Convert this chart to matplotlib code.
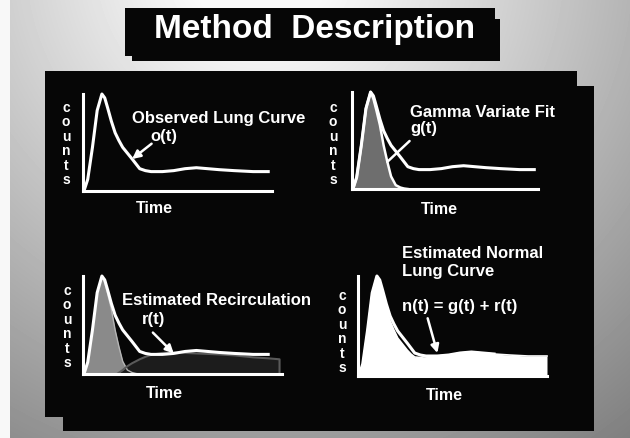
import matplotlib.pyplot as plt
import numpy as np
from matplotlib.patches import Rectangle

W, H = 630, 439
FONT = 'Liberation Sans'

# time axis in arbitrary units (0-100 = length of the drawn time axis)
t = [0.5, 2.5, 5, 7.5, 10, 11.5, 13, 15, 17, 19, 21, 23.5, 26, 28, 30,
     33, 36, 42, 48, 54, 60, 66, 72, 80, 90, 98]
observed = [0, 12, 45, 83, 100, 96, 86, 72, 60, 52, 45, 39, 33, 28, 23,
            21, 20, 20, 21, 23, 24, 23, 22, 21, 20, 20]

# gamma variate fit g(t)
t_gamma = [0.5, 2.5, 5, 7.5, 10, 11.5, 13, 15, 17, 19, 21, 23.5, 26, 28, 30]
gamma = [0, 12, 45, 83, 100, 93, 82, 66, 45, 28, 13, 4, 1.5, 0.5, 0]

# estimated recirculation r(t)
t_recirc = [18, 21, 23.5, 26, 28, 30, 33, 36, 42, 48, 54, 60, 66, 72, 80, 90, 98, 104]
recirc = [0, 4, 8, 11, 13, 15, 17.5, 19.5, 21.5, 22, 21.5, 21, 20.5, 20, 19, 17, 16, 15]

# estimated normal lung curve n(t)
t_normal = [0.5, 2.5, 5, 7.5, 10, 11.5, 13, 15, 17, 19, 21, 23.5, 26, 28, 30,
            33, 36, 42, 48, 54, 60, 66, 72, 80, 90, 100]
normal = [0, 12, 45, 83, 100, 95, 84, 68, 55, 46, 38, 32, 26, 22, 19,
          18.5, 19.5, 20, 21, 23, 24, 23, 22, 21, 20, 20]

fig = plt.figure(figsize=(6.3, 4.39), dpi=100)

# background: photographed slide, light top-left fading to grey
bg = fig.add_axes([0, 0, 1, 1])
bg.axis('off')
yy, xx = np.mgrid[0:H, 0:W]
d = np.hypot(xx - 260, yy + 40)
shade = np.clip(250 - 0.23 * np.clip(d - 70, 0, None), 0, 255) / 255
shade[:, :10] = 0.97
bg.imshow(shade, cmap='gray', vmin=0, vmax=1, extent=[0, W, H, 0], aspect='auto')
bg.set_xlim(0, W)
bg.set_ylim(H, 0)

# black boxes (slightly offset copies give the stepped edges)
for x0, y0, w, h in [(45, 72, 532, 346), (63, 87, 531, 345),
                     (125, 9, 370, 48), (132, 20, 368, 42)]:
    bg.add_patch(Rectangle((x0, y0), w, h, facecolor='#060606', edgecolor='none'))

bg.text(315, 38, 'Method  Description', ha='center', va='baseline', color='white',
        fontsize=24, fontweight='bold', family=FONT)


def panel(x0, x1, y0, y1, xmax=100):
    ax = fig.add_axes([x0 / W, 1 - y1 / H, (x1 - x0) / W, (y1 - y0) / H])
    ax.patch.set_visible(False)
    ax.set_xlim(0, xmax)
    ax.set_ylim(0, 100)
    for s in ['top', 'right']:
        ax.spines[s].set_visible(False)
    for s in ['left', 'bottom']:
        ax.spines[s].set_color('white')
        ax.spines[s].set_linewidth(2.2)
        ax.spines[s].set_capstyle('projecting')
    ax.set_xticks([])
    ax.set_yticks([])
    return ax


def counts(px, py_top):
    for i, ch in enumerate('counts'):
        bg.text(px, py_top + i * 14.4, ch, ha='center', va='center', color='white',
                fontsize=10, fontweight='bold', family=FONT)


def label(txt, px, py, size=12, ha='left'):
    bg.text(px, py, txt, ha=ha, va='baseline', color='white',
            fontsize=size, fontweight='bold', family=FONT)


def arrow(ax, xy, off, head=True):
    ax.annotate('', xy=xy, xytext=off, textcoords='offset points',
                arrowprops=dict(arrowstyle='-|>' if head else '-', color='white',
                                lw=1.8, mutation_scale=12, shrinkA=0, shrinkB=0),
                annotation_clip=False)


lw = 2.2

# top-left: observed lung curve
ax1 = panel(83, 272, 95, 192)
ax1.plot(t, observed, color='white', lw=lw, solid_joinstyle='round', clip_on=False)
arrow(ax1, (t[12], observed[12]), (14, 11))
counts(66, 108)
label('Observed Lung Curve', 132, 123)
label('o(t)', 150, 141)
label('Time', 154, 213, size=11.5, ha='center')

# top-right: gamma variate fit
ax2 = panel(352, 538, 93, 190)
ax2.fill_between(t_gamma, gamma, color='#6e6e6e', lw=0)
ax2.plot(t_gamma, gamma, color='white', lw=1.8, clip_on=False)
ax2.plot(t, observed, color='white', lw=lw, solid_joinstyle='round', clip_on=False)
arrow(ax2, (t_gamma[9], gamma[9]), (16, 15), head=False)
counts(333, 108)
label('Gamma Variate Fit', 410, 117)
label('g(t)', 410, 133)
label('Time', 439, 214, size=11.5, ha='center')

# bottom-left: estimated recirculation
ax3 = panel(83, 282, 277, 375, xmax=105.3)
ax3.fill_between(t_gamma, gamma, color='#8a8a8a', lw=0)
ax3.plot(t_gamma, gamma, color='#b5b5b5', lw=1)
ax3.fill_between(t_recirc, recirc, color='#1c1c1c', lw=0)
ax3.plot(t_recirc + [t_recirc[-1]], recirc + [0], color='#5a5a5a', lw=1.5)
ax3.plot(t, observed, color='white', lw=lw, solid_joinstyle='round', clip_on=False)
arrow(ax3, (t[18], observed[18]), (-15, 15))
counts(67, 291)
label('Estimated Recirculation', 122, 305)
label('r(t)', 142, 324)
label('Time', 164, 398, size=11.5, ha='center')

# bottom-right: estimated normal lung curve
ax4 = panel(358, 547, 277, 377)
ax4.fill_between(t_normal, normal, color='white', lw=0)
ax4.plot(t_normal, normal, color='white', lw=1.2, clip_on=False)
ax4.plot(t[:-3], observed[:-3], color='white', lw=lw, solid_joinstyle='round', clip_on=False)
arrow(ax4, (t[17], observed[17] + 3), (-7, 25))
counts(342, 296)
label('Estimated Normal', 402, 258)
label('Lung Curve', 402, 276)
label('n(t) = g(t) + r(t)', 402, 311)
label('Time', 444, 400, size=11.5, ha='center')

fig.savefig('out.png', dpi=100)
